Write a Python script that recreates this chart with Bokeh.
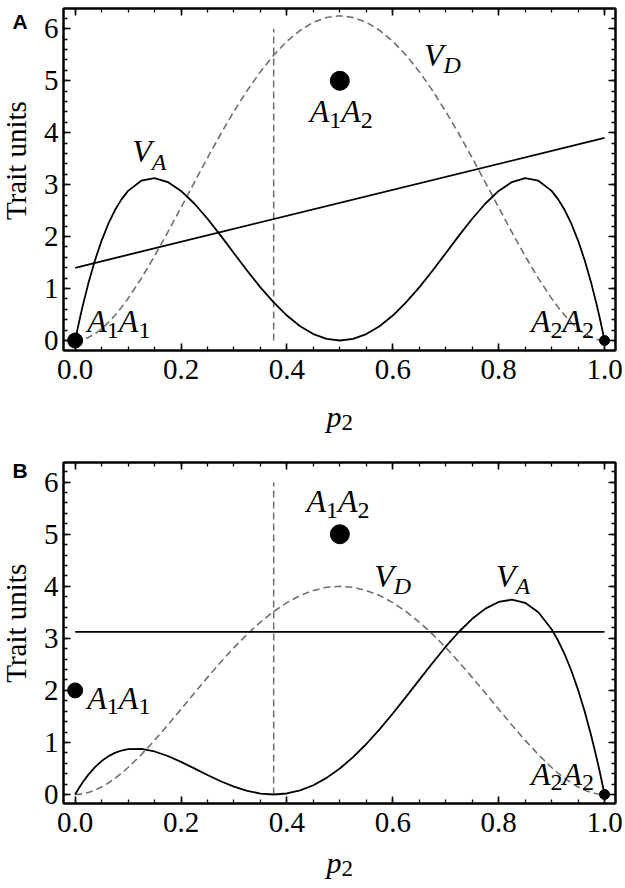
import numpy as np
from bokeh.plotting import figure
from bokeh.models import Label, LinearAxis, FixedTicker, PrintfTickFormatter, Range1d
from bokeh.layouts import column, row
from bokeh.embed import file_html
from bokeh.resources import INLINE

# ---------------- data ----------------
p2 = [0, 0.005, 0.01, 0.015, 0.025, 0.0375, 0.05, 0.0625, 0.075, 0.0875, 0.1,
      0.125, 0.15, 0.175, 0.2, 0.225, 0.25, 0.275, 0.3, 0.325, 0.35, 0.375,
      0.4, 0.425, 0.45, 0.475, 0.5, 0.525, 0.55, 0.575, 0.6, 0.625, 0.65,
      0.675, 0.7, 0.725, 0.75, 0.775, 0.8, 0.825, 0.85, 0.875,
      0.9, 0.9125, 0.925, 0.9375, 0.95, 0.9625, 0.975, 0.985, 0.99, 0.995, 1.0]

# Panel A: additive (V_A) and dominance (V_D) variance
va_a = [0, 0.2438, 0.4754, 0.6951, 1.0999, 1.5441, 1.9238, 2.2430, 2.5062, 2.7172, 2.88,
        3.0762, 3.1238, 3.0499, 2.88, 2.6374, 2.3438, 2.0187, 1.68, 1.3437, 1.0238, 0.7324,
        0.48, 0.2749, 0.1238, 0.0312, 0, 0.0312, 0.1238, 0.2749, 0.48, 0.7324, 1.0238,
        1.3437, 1.68, 2.0187, 2.3438, 2.6374, 2.88, 3.0499, 3.1238, 3.0762,
        2.88, 2.7172, 2.5062, 2.2430, 1.9238, 1.5441, 1.0999, 0.6951, 0.4754, 0.2438, 0]
vd_a = [0, 0.0025, 0.0098, 0.0218, 0.0594, 0.1303, 0.2256, 0.3433, 0.4813, 0.6375, 0.81,
        1.1963, 1.6256, 2.0844, 2.56, 3.0407, 3.5156, 3.975, 4.41, 4.8125, 5.1756, 5.4932,
        5.76, 5.9719, 6.1256, 6.2188, 6.25, 6.2188, 6.1256, 5.9719, 5.76, 5.4932, 5.1756,
        4.8125, 4.41, 3.975, 3.5156, 3.0407, 2.56, 2.0844, 1.6256, 1.1963,
        0.81, 0.6375, 0.4813, 0.3433, 0.2256, 0.1303, 0.0594, 0.0218, 0.0098, 0.0025, 0]
mean_x_a = [0.0, 1.0]
mean_y_a = [1.4, 3.9]
geno_x_a = [0.0, 0.5, 1.0]
geno_y_a = [0.0, 5.0, 0.0]

# Panel B
va_b = [0, 0.0872, 0.1688, 0.2451, 0.3822, 0.5262, 0.6422, 0.7324, 0.7992, 0.8447, 0.8712,
        0.875, 0.8262, 0.7392, 0.6272, 0.5022, 0.375, 0.2552, 0.1512, 0.0702, 0.0182, 0,
        0.0192, 0.0782, 0.1782, 0.3192, 0.5, 0.7182, 0.9702, 1.2512, 1.5552, 1.875, 2.2022,
        2.5272, 2.8392, 3.1262, 3.375, 3.5712, 3.6992, 3.7422, 3.6822, 3.5,
        3.1752, 2.9526, 2.6862, 2.3730, 2.0102, 1.5946, 1.1232, 0.7037, 0.4793, 0.2448, 0]
vd_b = [0, 0.0016, 0.0063, 0.0140, 0.0380, 0.0834, 0.1444, 0.2197, 0.3080, 0.4080, 0.5184,
        0.7656, 1.0404, 1.334, 1.6384, 1.946, 2.25, 2.544, 2.8224, 3.08, 3.3124, 3.5156,
        3.6864, 3.822, 3.9204, 3.98, 4.0, 3.98, 3.9204, 3.822, 3.6864, 3.5156, 3.3124,
        3.08, 2.8224, 2.544, 2.25, 1.946, 1.6384, 1.334, 1.0404, 0.7656,
        0.5184, 0.4080, 0.3080, 0.2197, 0.1444, 0.0834, 0.0380, 0.0140, 0.0063, 0.0016, 0]
mean_x_b = [0.0, 1.0]
mean_y_b = [3.125, 3.125]
geno_x_b = [0.0, 0.5, 1.0]
geno_y_b = [2.0, 5.0, 0.0]

# common
vline_x = [0.375, 0.375]
vline_y = [0.0, 6.0]
x_ticks = [0.0, 0.2, 0.4, 0.6, 0.8, 1.0]
y_ticks = [0, 1, 2, 3, 4, 5, 6]

# ---------------- styles ----------------
SERIF = "Liberation Serif"
SANS = "Liberation Sans"
GRAY = "#6f6f6f"
DOT_SIZES = [15, 19, 10]
MAIN = 32
SUB = 24
MID = 0.34   # distance baseline -> vertical text centre, in em


def style_axis(ax, labels=True, fmt="%.1f"):
    ax.axis_line_width = 2
    ax.axis_line_color = "black"
    ax.major_tick_in = 7
    ax.major_tick_out = 0
    ax.minor_tick_in = 4
    ax.minor_tick_out = 0
    ax.major_tick_line_width = 1.6
    ax.minor_tick_line_width = 1.3
    ax.major_tick_line_color = "black"
    ax.minor_tick_line_color = "black"
    if labels:
        ax.major_label_text_font = SERIF
        ax.major_label_text_font_size = "29px"
        ax.major_label_text_color = "black"
        ax.formatter = PrintfTickFormatter(format=fmt)
    else:
        ax.major_label_text_font_size = "0px"
        ax.major_label_text_color = None
        ax.major_label_standoff = 0


def sub_label(p, x, y, pieces, dy=-6):
    """pieces: (text, is_sub, italic, advance_em); (x, y) = baseline start."""
    off = 0.0
    for txt, is_sub, italic, adv in pieces:
        size = SUB if is_sub else MAIN
        p.add_layout(Label(x=x, y=y, x_units="data", y_units="data", text=txt,
                           x_offset=off, y_offset=MID * size + (dy if is_sub else 0),
                           text_font=SERIF, text_font_size=f"{size}px",
                           text_font_style=("italic" if italic else "normal"),
                           text_align="left", text_baseline="middle",
                           text_color="black"))
        off += adv * size


def geno(p, x, y, a, b, dy=-6):
    sub_label(p, x, y, [("A", False, True, 0.611), (a, True, False, 0.5),
                        ("A", False, True, 0.611), (b, True, False, 0.5)], dy)


def var(p, x, y, s, dy=-7):
    sub_label(p, x, y, [("V", False, True, 0.611), (s, True, True, 0.7)], dy)


def make_panel(height, top, bottom, yr, va, vd, mx, my, gx, gy):
    p = figure(width=585, height=height, output_backend="svg", toolbar_location=None,
               x_range=Range1d(-0.022, 1.0207), y_range=Range1d(*yr),
               min_border_left=21, min_border_right=10, min_border_top=top,
               min_border_bottom=bottom)
    p.grid.visible = False
    p.outline_line_color = "black"
    p.outline_line_width = 2
    p.background_fill_color = "white"
    p.border_fill_color = "white"
    xt = FixedTicker(ticks=x_ticks, minor_ticks=[i * 0.05 for i in range(21)])
    yt = FixedTicker(ticks=y_ticks, minor_ticks=[i * 0.2 for i in range(32)])
    p.xaxis.ticker = xt
    p.yaxis.ticker = yt
    bx = p.xaxis[0]
    style_axis(bx, True, "%.1f")
    bx.major_label_standoff = 9
    ly = p.yaxis[0]
    style_axis(ly, True, "%d")
    ly.major_label_standoff = 5
    top_ax = LinearAxis(ticker=xt)
    right_ax = LinearAxis(ticker=yt)
    style_axis(top_ax, False)
    style_axis(right_ax, False)
    p.add_layout(top_ax, "above")
    p.add_layout(right_ax, "right")

    p.line(vline_x, vline_y, line_color=GRAY, line_width=1.5, line_dash="7 4")
    p.line(p2, vd, line_color=GRAY, line_width=1.6, line_dash="7 4")
    p.line(p2, va, line_color="black", line_width=1.8)
    p.line(mx, my, line_color="black", line_width=1.8)
    p.scatter(gx, gy, size=DOT_SIZES, fill_color="black", line_color="black")
    return p


def strip(w, h, x0, x1, ytop, ybot):
    """A plain text strip whose data coordinates are page pixels."""
    s = figure(width=w, height=h, x_range=Range1d(x0, x1), y_range=Range1d(ybot, ytop),
               x_axis_location=None, y_axis_location=None, toolbar_location=None,
               output_backend="svg", min_border=0)
    s.outline_line_color = None
    s.grid.visible = False
    s.background_fill_color = "white"
    s.border_fill_color = "white"
    return s


def stxt(s, x, base, text, size, font=SERIF, style="normal", angle=0.0, align="left"):
    if angle:
        xx, yy = x - MID * size, base
    else:
        xx, yy = x, base - MID * size
    s.add_layout(Label(x=xx, y=yy, text=text, angle=angle, text_font=font,
                       text_font_size=f"{size}px", text_font_style=style,
                       text_align=align, text_baseline="middle", text_color="black"))


# ---------------- panels ----------------
pA = make_panel(398, 8, 48, (-0.1925, 6.391), va_a, vd_a, mean_x_a, mean_y_a,
                geno_x_a, geno_y_a)
pB = make_panel(405, 22, 42, (-0.173, 6.378), va_b, vd_b, mean_x_b, mean_y_b,
                geno_x_b, geno_y_b)

# ---- panel A texts ----
var(pA, 0.108, 3.43, "A", dy=-8)
var(pA, 0.659, 5.29, "D", dy=-7)
geno(pA, 0.443, 4.20, "1", "2")
geno(pA, 0.023, 0.16, "1", "1")
geno(pA, 0.861, 0.16, "2", "2")

# ---- panel B texts ----
geno(pB, 0.437, 5.42, "1", "2")
var(pB, 0.565, 3.98, "D", dy=-7)
var(pB, 0.795, 3.98, "A", dy=-7)
geno(pB, 0.023, 1.65, "1", "1")
geno(pB, 0.861, 0.19, "2", "2")

# ---------------- side and bottom strips ----------------
sA = strip(40, 398, 0, 40, 0, 398)
stxt(sA, 12, 22, "A", 21, font=SANS, style="bold")
stxt(sA, 25, 177, "Trait units", 29, angle=np.pi / 2, align="center")

bA = strip(625, 42, 0, 625, 398, 440)
stxt(bA, 326, 426.5, "p", 30, style="italic")
stxt(bA, 341, 430, "2", 23)

sB = strip(40, 405, 0, 40, 440, 845)
stxt(sB, 12, 457, "B", 21, font=SANS, style="bold")
stxt(sB, 25, 631, "Trait units", 29, angle=np.pi / 2, align="center")

bB = strip(625, 43, 0, 625, 845, 888)
stxt(bB, 326, 872.5, "p", 30, style="italic")
stxt(bB, 341, 876, "2", 23)

layout = column(row(sA, pA, spacing=0), bA, row(sB, pB, spacing=0), bB, spacing=0)
open("out.html", "w").write(file_html(layout, INLINE))
